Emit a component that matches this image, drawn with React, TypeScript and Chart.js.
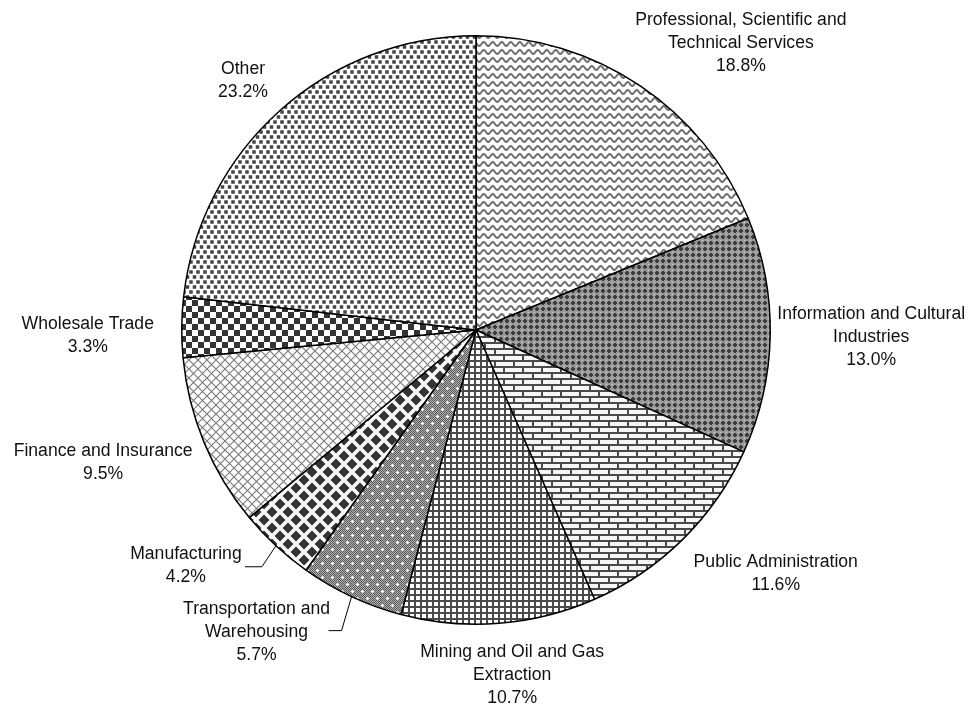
import React, { useEffect, useRef } from "react";
import { Chart, PieController, ArcElement } from "chart.js";

Chart.register(PieController, ArcElement);

// ---- data ----
const categories: string[][] = [
  ["Professional, Scientific and", "Technical Services"],
  ["Information and Cultural", "Industries"],
  ["Public Administration"],
  ["Mining and Oil and Gas", "Extraction"],
  ["Transportation and", "Warehousing"],
  ["Manufacturing"],
  ["Finance and Insurance"],
  ["Wholesale Trade"],
  ["Other"],
];
const shares: number[] = [18.8, 13.0, 11.6, 10.7, 5.7, 4.2, 9.5, 3.3, 23.2];

// ---- label layout (offset from slice's outer mid point) ----
const labelDX: number[] = [101, 101, 93, 13, -95, -90, -101, -94, -37];
const labelDY: number[] = [-42, 2, 34, 52, 36, 20, 20, 8, -30];
const leaderSlices: number[] = [4, 5];
const leaderElbowDX: number[] = [-10, -14];
const leaderElbowDY: number[] = [34, 21];
const leaderTail: number[] = [13, 17];

type Painter = (g: CanvasRenderingContext2D, w: number, h: number) => void;

function tile(w: number, h: number, draw: Painter): CanvasPattern | string {
  const c = document.createElement("canvas");
  c.width = w;
  c.height = h;
  const g = c.getContext("2d");
  if (!g) return "#ccc";
  g.fillStyle = "#fff";
  g.fillRect(0, 0, w, h);
  draw(g, w, h);
  return g.createPattern(c, "repeat") || "#ccc";
}

function diamond(g: CanvasRenderingContext2D, x: number, y: number, r: number) {
  g.beginPath();
  g.moveTo(x, y - r);
  g.lineTo(x + r, y);
  g.lineTo(x, y + r);
  g.lineTo(x - r, y);
  g.closePath();
  g.fill();
}

function makePatterns(): (CanvasPattern | string)[] {
  const wave = tile(9, 8, (g, w) => {
    g.strokeStyle = "#707070";
    g.lineWidth = 2;
    g.beginPath();
    for (let x = -1; x <= w + 1; x += 0.5) {
      const y = 4 + 2 * Math.sin((2 * Math.PI * x) / w);
      if (x === -1) g.moveTo(x, y);
      else g.lineTo(x, y);
    }
    g.stroke();
  });
  const weave = tile(6, 6, (g) => {
    g.fillStyle = "#9a9a9a";
    g.fillRect(0, 0, 6, 6);
    g.fillStyle = "#3c3c3c";
    g.fillRect(2, 1, 2, 4);
    g.fillRect(1, 2, 4, 2);
    g.fillStyle = "#d4d4d4";
    g.fillRect(0, 0, 1, 1);
  });
  const brick = tile(19, 12, (g) => {
    g.fillStyle = "#f6f6f6";
    g.fillRect(0, 0, 19, 12);
    g.fillStyle = "#4a4a4a";
    g.fillRect(0, 0, 19, 2);
    g.fillRect(0, 6, 19, 2);
    g.fillRect(0, 0, 2, 6);
    g.fillRect(9, 6, 2, 6);
  });
  const grid = tile(6, 6, (g) => {
    g.fillStyle = "#4a4a4a";
    g.fillRect(0, 0, 6, 2);
    g.fillRect(0, 0, 2, 6);
  });
  const speck = tile(10, 14, (g) => {
    for (let y = 0; y < 14; y++) {
      for (let x = 0; x < 10; x++) {
        g.fillStyle = (x + y) % 2 === 0 ? "#5a5a5a" : "#b0b0b0";
        g.fillRect(x, y, 1, 1);
      }
    }
    g.fillStyle = "#ffffff";
    const dots = [
      [2, 3],
      [7, 10],
    ];
    for (const [cx, cy] of dots) {
      g.fillRect(cx - 1, cy, 3, 1);
      g.fillRect(cx, cy - 1, 1, 3);
    }
  });
  const diamonds = tile(16, 16, (g) => {
    g.fillStyle = "#333";
    const pts = [
      [0, 0],
      [16, 0],
      [0, 16],
      [16, 16],
      [8, 8],
    ];
    for (const [x, y] of pts) diamond(g, x, y, 5.5);
  });
  const lattice = tile(9, 9, (g) => {
    g.strokeStyle = "#7a7a7a";
    g.lineWidth = 1.1;
    g.beginPath();
    g.moveTo(0, 0);
    g.lineTo(9, 9);
    g.moveTo(9, 0);
    g.lineTo(0, 9);
    g.stroke();
  });
  const checker = tile(12, 12, (g) => {
    g.fillStyle = "#333";
    g.fillRect(0, 0, 6, 6);
    g.fillRect(6, 6, 6, 6);
  });
  const dots = tile(7, 10, (g) => {
    g.fillStyle = "#444";
    g.fillRect(0.25, 0.25, 3.5, 3.5);
    g.fillRect(3.75, 5.25, 3.5, 3.5);
    g.fillRect(-3.25, 5.25, 3.5, 3.5);
  });
  return [wave, weave, brick, grid, speck, diamonds, lattice, checker, dots];
}

const labelPlugin = {
  id: "pieLabels",
  afterDraw(chart: any) {
    const ctx: CanvasRenderingContext2D = chart.ctx;
    const meta = chart.getDatasetMeta(0);
    ctx.save();
    ctx.font = '17.6px "Liberation Sans", Arial, sans-serif';
    ctx.fillStyle = "#111";
    ctx.textAlign = "center";
    ctx.textBaseline = "middle";
    const lh = 23;
    meta.data.forEach((arc: any, i: number) => {
      const p = arc.getProps(["x", "y", "startAngle", "endAngle", "outerRadius"], true);
      const mid = (p.startAngle + p.endAngle) / 2;
      const ex = p.x + p.outerRadius * Math.cos(mid);
      const ey = p.y + p.outerRadius * Math.sin(mid);
      const lines = [...categories[i], shares[i].toFixed(1) + "%"];
      const lx = ex + labelDX[i];
      const ly = ey + labelDY[i];
      lines.forEach((t, k) => {
        ctx.fillText(t, lx, ly + (k - (lines.length - 1) / 2) * lh);
      });
      const li = leaderSlices.indexOf(i);
      if (li >= 0) {
        const bx = ex + leaderElbowDX[li];
        const by = ey + leaderElbowDY[li];
        ctx.beginPath();
        ctx.strokeStyle = "#000";
        ctx.lineWidth = 1;
        ctx.moveTo(ex, ey);
        ctx.lineTo(bx, by);
        ctx.lineTo(bx - leaderTail[li], by);
        ctx.stroke();
      }
    });
    ctx.restore();
  },
};

export default function App() {
  const ref = useRef<HTMLCanvasElement | null>(null);
  useEffect(() => {
    if (!ref.current) return;
    const chart = new Chart(ref.current, {
      type: "pie",
      data: {
        labels: categories.map((c) => c.join(" ")),
        datasets: [
          {
            data: shares,
            backgroundColor: makePatterns() as any,
            borderColor: "#000",
            borderWidth: 1.5,
          },
        ],
      },
      options: {
        animation: false,
        responsive: false,
        maintainAspectRatio: false,
        layout: { padding: { left: 181, right: 205, top: 35, bottom: 82 } },
        plugins: { legend: { display: false }, tooltip: { enabled: false } } as any,
      },
      plugins: [labelPlugin],
    });
    return () => chart.destroy();
  }, []);
  return (
    <div style={{ position: "fixed", left: 0, top: 0, width: 976, height: 707, background: "#fff" }}>
      <canvas ref={ref} width={976} height={707} style={{ width: 976, height: 707 }} />
    </div>
  );
}
